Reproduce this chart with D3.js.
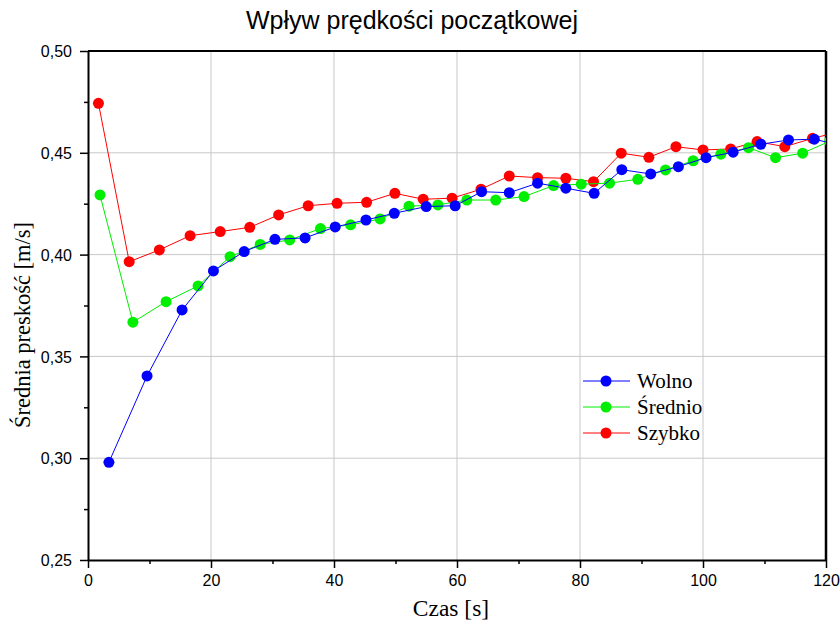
<!DOCTYPE html>
<html>
<head>
<meta charset="utf-8">
<script src="https://cdn.jsdelivr.net/npm/d3@7"></script>
<style>
body { margin: 0; background: #fff; }
.tick text { font-family: "Liberation Sans", Arial, sans-serif; font-size: 16px; fill: #000; }
</style>
</head>
<body>
<div id="graph"></div>
<script>
(function(){
"use strict";

// series names
var names = ["Wolno", "Średnio", "Szybko"];

// Wolno (blue)
var wolnoX = [3.4, 9.6, 15.3, 20.4, 25.4, 30.4, 35.3, 40.2, 45.2, 49.8, 55.0, 59.7, 64.0, 68.5, 73.1, 77.7, 82.3, 86.8, 91.5, 96.0, 100.5, 104.9, 109.4, 113.9, 118.1, 122.6];
var wolnoY = [0.298, 0.3404, 0.3728, 0.392, 0.4015, 0.4075, 0.4082, 0.4136, 0.417, 0.4203, 0.4236, 0.424, 0.4309, 0.4304, 0.4351, 0.4326, 0.4301, 0.4417, 0.4396, 0.4432, 0.4476, 0.4503, 0.4542, 0.4563, 0.4567, 0.4534];

// Średnio (green)
var sredX = [1.95, 7.3, 12.7, 17.9, 23.1, 28.0, 32.8, 37.8, 42.7, 47.5, 52.2, 56.9, 61.6, 66.3, 70.9, 75.7, 80.2, 84.8, 89.4, 93.9, 98.4, 102.9, 107.4, 111.8, 116.2, 120.6];
var sredY = [0.4293, 0.3668, 0.3769, 0.3846, 0.399, 0.405, 0.4072, 0.4128, 0.4146, 0.4175, 0.4238, 0.4244, 0.4268, 0.4268, 0.4285, 0.4339, 0.4346, 0.4351, 0.437, 0.4416, 0.4461, 0.4493, 0.4525, 0.4476, 0.4498, 0.4557];

// Szybko (red)
var szybX = [1.7, 6.7, 11.6, 16.6, 21.5, 26.3, 31.0, 35.8, 40.5, 45.3, 49.9, 54.5, 59.2, 63.9, 68.5, 73.1, 77.7, 82.2, 86.7, 91.2, 95.6, 100.0, 104.5, 108.8, 113.3, 117.8, 122.3];
var szybY = [0.4743, 0.3965, 0.4023, 0.4093, 0.4113, 0.4134, 0.4195, 0.424, 0.4252, 0.4257, 0.4301, 0.4272, 0.4277, 0.4321, 0.4386, 0.4378, 0.4375, 0.4358, 0.4498, 0.4478, 0.453, 0.4514, 0.4519, 0.4555, 0.453, 0.4571, 0.4604];

var xTicks = [0, 20, 40, 60, 80, 100, 120];
var yTicks = [0.25, 0.30, 0.35, 0.40, 0.45, 0.50];

var colors = {"Wolno": "#0000ff", "Średnio": "#00ee00", "Szybko": "#ff0000"};

var margin = {top: 51, right: 14, bottom: 68, left: 88};
var W = 840, H = 628;
var width = W - margin.left - margin.right;
var height = H - margin.top - margin.bottom;

var x = d3.scaleLinear().domain([0, 120]).range([0, width]);
var y = d3.scaleLinear().domain([0.25, 0.50]).range([height, 0]);
var fmt = function(d){ return d3.format(".2f")(d).replace(".", ","); };

var svg = d3.select("#graph").append("svg")
	.attr("width", W)
	.attr("height", H)
	.append("g")
		.attr("transform", "translate(" + margin.left + "," + margin.top + ")");

svg.append("defs").append("clipPath").attr("id", "clip")
	.append("rect").attr("width", width).attr("height", height);

// grid
svg.append("g").selectAll("line").data(xTicks.slice(1, -1)).enter().append("line")
	.attr("x1", function(d){ return x(d); }).attr("x2", function(d){ return x(d); })
	.attr("y1", 0).attr("y2", height)
	.attr("stroke", "#c8c8c8").attr("stroke-width", 1);
svg.append("g").selectAll("line").data(yTicks.slice(1, -1)).enter().append("line")
	.attr("y1", function(d){ return y(d); }).attr("y2", function(d){ return y(d); })
	.attr("x1", 0).attr("x2", width)
	.attr("stroke", "#c8c8c8").attr("stroke-width", 1);

// minor ticks
var xMinor = d3.range(10, 120, 20);
var yMinor = d3.range(0.275, 0.5, 0.05);
svg.append("g").call(d3.axisBottom(x).tickValues(xMinor).tickSize(4).tickFormat(""))
	.attr("transform", "translate(0," + height + ")")
	.call(function(g){ g.select(".domain").remove(); g.selectAll("line").attr("stroke-width", 1.5); });
svg.append("g").call(d3.axisLeft(y).tickValues(yMinor).tickSize(4).tickFormat(""))
	.call(function(g){ g.select(".domain").remove(); g.selectAll("line").attr("stroke-width", 1.5); });

// frame (top/right)
svg.append("line").attr("x1", 0).attr("x2", width).attr("y1", 0).attr("y2", 0)
	.attr("stroke", "#000").attr("stroke-width", 2);
svg.append("line").attr("x1", width).attr("x2", width).attr("y1", 0).attr("y2", height)
	.attr("stroke", "#000").attr("stroke-width", 2.5);

// axes
svg.append("g")
	.attr("transform", "translate(0," + height + ")")
	.call(d3.axisBottom(x).tickValues(xTicks).tickSize(8).tickSizeOuter(0).tickPadding(7))
	.call(function(g){
		g.select(".domain").attr("stroke-width", 2);
		g.selectAll(".tick line").attr("stroke-width", 1.5);
	});
svg.append("g")
	.call(d3.axisLeft(y).tickValues(yTicks).tickFormat(fmt).tickSize(8).tickSizeOuter(0).tickPadding(8))
	.call(function(g){
		g.select(".domain").attr("stroke-width", 2);
		g.selectAll(".tick line").attr("stroke-width", 1.5);
		g.selectAll(".tick text").attr("dy", "0.36em");
	});

// series, drawn so that Wolno ends up on top
var series = [
	{name: "Szybko", xs: szybX, ys: szybY},
	{name: "Średnio", xs: sredX, ys: sredY},
	{name: "Wolno", xs: wolnoX, ys: wolnoY}
];

var line = d3.line()
	.x(function(d){ return x(d[0]); })
	.y(function(d){ return y(d[1]); });

var plot = svg.append("g").attr("clip-path", "url(#clip)");

series.forEach(function(s){
	var pts = s.xs.map(function(v, i){ return [v, s.ys[i]]; });
	var g = plot.append("g");
	g.append("path")
		.datum(pts)
		.attr("d", line)
		.attr("fill", "none")
		.attr("stroke", colors[s.name])
		.attr("stroke-width", 1);
	g.selectAll("circle").data(pts).enter().append("circle")
		.attr("cx", function(d){ return x(d[0]); })
		.attr("cy", function(d){ return y(d[1]); })
		.attr("r", 5.5)
		.attr("fill", colors[s.name]);
});

// legend
var legend = svg.append("g").attr("transform", "translate(" + (583 - margin.left) + "," + (381 - margin.top) + ")");
names.forEach(function(n, i){
	var row = legend.append("g").attr("transform", "translate(0," + (i * 26) + ")");
	row.append("line").attr("x1", 0).attr("x2", 47).attr("y1", 0).attr("y2", 0)
		.attr("stroke", colors[n]).attr("stroke-width", 1);
	row.append("circle").attr("cx", 23).attr("cy", 0).attr("r", 5.5).attr("fill", colors[n]);
	row.append("text").attr("x", 54).attr("y", 7)
		.attr("font-family", "'Liberation Serif', 'Times New Roman', serif")
		.attr("font-size", 21)
		.text(n);
});

// titles
var root = d3.select("#graph svg");
root.append("text")
	.attr("x", 412).attr("y", 29)
	.attr("text-anchor", "middle")
	.attr("font-family", "'Liberation Sans', Arial, sans-serif")
	.attr("font-size", 25)
	.text("Wpływ prędkości początkowej");
root.append("text")
	.attr("x", 451).attr("y", 616)
	.attr("text-anchor", "middle")
	.attr("font-family", "'Liberation Serif', 'Times New Roman', serif")
	.attr("font-size", 23.5)
	.text("Czas [s]");
root.append("text")
	.attr("transform", "translate(30,325) rotate(-90)")
	.attr("text-anchor", "middle")
	.attr("font-family", "'Liberation Serif', 'Times New Roman', serif")
	.attr("font-size", 22.5)
	.text("Średnia preskość [m/s]");

})();
</script>
</body>
</html>
